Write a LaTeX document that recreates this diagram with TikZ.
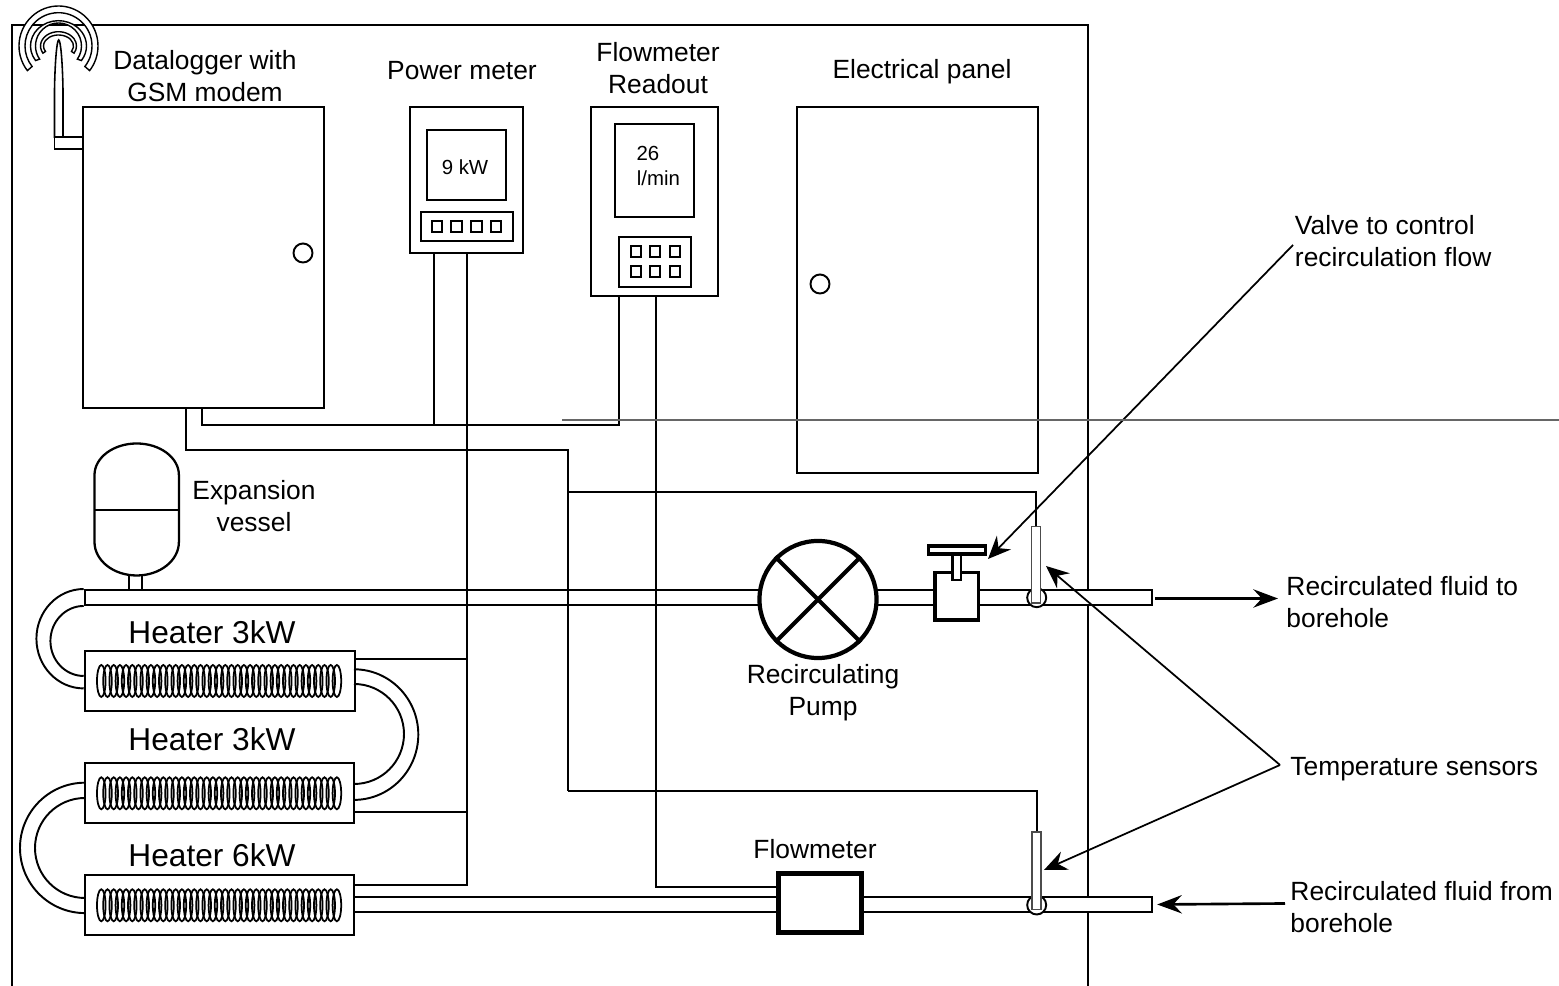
\documentclass[tikz,border=0pt]{standalone}
\usepackage{fontspec}
\setmainfont{Liberation Sans}
\usetikzlibrary{arrows.meta}

\begin{document}
\begin{tikzpicture}[x=0.01cm, y=-0.01cm, line width=0.55pt,
  box/.style={draw, rectangle, inner sep=0pt, fill=white},
  pipe/.style={draw, rectangle, inner sep=0pt, fill=white, minimum height=0.15cm},
  knob/.style={draw, circle, inner sep=0pt, minimum size=0.19cm},
  btn/.style={draw, rectangle, inner sep=0pt, minimum size=0.105cm},
  bulb/.style={draw, circle, inner sep=0pt, minimum size=0.19cm, fill=white},
  sensor/.style={draw=black!70, rectangle, inner sep=0pt, fill=white, minimum width=0.09cm, line width=0.45pt},
  heater/.style={draw, rectangle, inner sep=0pt, minimum width=2.69cm, minimum height=0.6cm},
  lbl/.style={font=\fontsize{7.5}{9.1}\selectfont, align=center, inner sep=0pt},
  lblbig/.style={font=\fontsize{9}{10}\selectfont, inner sep=0pt},
  lblsmall/.style={font=\fontsize{5.8}{7}\selectfont, inner sep=0pt},
  lead/.style={-{Stealth[length=6.5pt, width=5.6pt, inset=2.2pt]}, line width=0.5pt},
  flowarrow/.style={-{Stealth[length=7pt, width=5.2pt, inset=2.4pt]}, line width=0.75pt},
]
  \useasboundingbox (0,0) rectangle (1559,986);

  % Frame and pipes
  \draw (12,986) -- (12,25) -- (1088,25) -- (1088,986);
  \node[pipe, minimum width=10.67cm] (pipeTop) at (618.5,597.5) {};
  \node[pipe, minimum width=7.98cm] (pipeBot) at (753,904.5) {};

  % Antenna
  \begin{scope}[shift={(58.5,46)}]
    \foreach \ox/\oy/\ix/\iy/\a/\b in {39.5/40/33.5/33.3/142/398, 28/25.3/23/23/145/395, 18/14.3/15/11/150/390} {
      \draw[fill=white, line width=0.4pt] ({\ox*cos(\a)},{\oy*sin(\a)}) arc[start angle=\a, end angle=\b, x radius=\ox, y radius=\oy]
        -- ({\ix*cos(\b)},{\iy*sin(\b)}) arc[start angle=\b, end angle=\a, x radius=\ix, y radius=\iy] -- cycle;
    }
  \end{scope}
  \draw[fill=white, line width=0.45pt] (54.5,137) -- (54.5,90) .. controls (55,60) and (57,40) .. (58.7,40)
    .. controls (60.5,40) and (62.5,60) .. (63,90) -- (63,137) -- cycle;
  \node[box, minimum width=0.285cm, minimum height=0.12cm, line width=0.45pt] (antBase) at (68.7,143) {};

  % Cabinets
  \node[box, minimum width=2.405cm, minimum height=3.01cm] (logger) at (203.5,257.5) {};
  \node[knob] (loggerKnob) at (303,253) {};
  \node[box, minimum width=1.13cm, minimum height=1.46cm] (meter) at (466.5,180) {};
  \node[box, minimum width=0.785cm, minimum height=0.70cm] (meterScreen) at (466.5,165) {};
  \node[lblsmall] (meterVal) at (465,167) {9 kW};
  \node[box, minimum width=0.92cm, minimum height=0.295cm] (meterKeys) at (467,226.7) {};
  \foreach \bx [count=\bi] in {437,456.7,476.7,496}
    \node[btn] (meterBtn\bi) at (\bx,226.7) {};
  \node[box, minimum width=1.265cm, minimum height=1.89cm] (readout) at (654.75,201.5) {};
  \node[box, minimum width=0.79cm, minimum height=0.925cm] (readScreen) at (654.5,170.75) {};
  \node[lblsmall] (readVal) at (648,153) {26};
  \node[lblsmall] (readUnit) at (658.5,178) {l/min};
  \node[box, minimum width=0.72cm, minimum height=0.50cm] (readKeys) at (655,262) {};
  \foreach \bx [count=\bi] in {636,655,675} {
    \node[btn] (readBtnA\bi) at (\bx,251.7) {};
    \node[btn] (readBtnB\bi) at (\bx,271.7) {};
  }
  \node[box, minimum width=2.41cm, minimum height=3.66cm] (panel) at (917.5,290) {};
  \node[knob] (panelKnob) at (820,284) {};

  % Expansion vessel
  \draw[fill=white, line width=0.65pt] (129.3,590) rectangle (142,575);
  \draw[fill=white, line width=0.65pt] (94.5,475) arc[start angle=180, end angle=270, x radius=42.2, y radius=31.5]
    arc[start angle=270, end angle=360, x radius=42.2, y radius=31.5] -- (178.9,542)
    arc[start angle=0, end angle=90, x radius=42.2, y radius=33.5]
    arc[start angle=90, end angle=180, x radius=42.2, y radius=33.5] -- cycle;
  \draw[line width=0.75pt] (94.5,510) -- (178.9,510);

  % Heaters
  \node[heater] (heaterA) at (220,681) {};
  \node[heater] (heaterB) at (219.5,793) {};
  \node[heater] (heaterC) at (219.5,905) {};
  \foreach \cy in {681,793.3,905.3} {
    \foreach \n in {0,...,38}
      \draw[line width=0.5pt] (101.3+\n*6.2,\cy) ellipse[x radius=4.3, y radius=16];
  }

  % Bends
  \draw (pipeTop.north west) arc[start angle=270, end angle=90, x radius=47.3, y radius=49.7];
  \draw (pipeTop.south west) arc[start angle=270, end angle=90, x radius=33.3, y radius=35];
  \draw (354,669.3) arc[start angle=-90, end angle=90, x radius=64.3, y radius=65.3];
  \draw (354,684) arc[start angle=-90, end angle=90, x radius=50, y radius=50];
  \draw (85,782.7) arc[start angle=270, end angle=90, x radius=65, y radius=65.2];
  \draw (85,798) arc[start angle=270, end angle=90, x radius=50, y radius=50];

  % Wiring
  \coordinate (busA) at (202,425);
  \coordinate (busB) at (619,425);
  \coordinate (busC) at (434,425);
  \draw (logger.south -| busA) -- (busA) -- (busB) -- (readout.south -| busB);
  \draw (meter.south -| busC) -- (busC);
  \coordinate (sigA) at (186,450);
  \coordinate (sigB) at (568,450);
  \coordinate (sigC) at (568,791);
  \coordinate (sigD) at (568,492);
  \coordinate (pwrA) at (467,885);
  \coordinate (tapA) at (467,659);
  \coordinate (tapB) at (467,812);
  \coordinate (flowA) at (656,887);
  \node[box, line width=1.25pt, minimum width=0.83cm, minimum height=0.59cm] (flowmeter) at (820,903) {};
  \draw (logger.south -| sigA) -- (sigA) -- (sigB) -- (sigC);
  \draw (meter.south -| pwrA) -- (pwrA) -- (pwrA -| heaterC.east);
  \draw (tapA) -- (tapA -| heaterA.east);
  \draw (tapB) -- (tapB -| heaterB.east);
  \draw (readout.south -| flowA) -- (flowA) -- (flowA -| flowmeter.west);

  % Pump and valve
  \node[box, circle, line width=1.2pt, minimum size=1.17cm] (pump) at (818,599.5) {};
  \draw[line width=1.2pt] (pump.45) -- (pump.225);
  \draw[line width=1.2pt] (pump.135) -- (pump.-45);
  \node[box, line width=0.9pt, minimum width=0.435cm, minimum height=0.475cm] (valveBody) at (956.7,596.2) {};
  \node[box, line width=0.8pt, minimum width=0.085cm, minimum height=0.25cm] (valveStem) at (956.7,567.5) {};
  \node[box, line width=0.9pt, minimum width=0.57cm, minimum height=0.08cm] (valveHandle) at (956.7,550) {};

  % Temperature sensors
  \node[bulb] (bulbA) at (1036.7,597.7) {};
  \node[sensor, minimum height=0.76cm] (sensorA) at (1036,564.7) {};
  \node[bulb] (bulbB) at (1036.7,905) {};
  \node[sensor, minimum height=0.77cm] (sensorB) at (1036.7,870.8) {};
  \draw (sensorA.north) |- (sigD);
  \draw (sensorB.north) |- (sigC);

  % Labels
  \node[lbl] (loggerLbl) at (205,76.5) {Datalogger with\\GSM modem};
  \node[lbl] (meterLbl) at (462,71) {Power meter};
  \node[lbl] (readoutLbl) at (658,68) {Flowmeter\\Readout};
  \node[lbl] (panelLbl) at (922,72) {Electrical panel};
  \node[lbl] (vesselLbl) at (254,506) {Expansion\\vessel};
  \node[lblbig] (heaterLblA) at (212,632) {Heater 3kW};
  \node[lblbig] (heaterLblB) at (212,739) {Heater 3kW};
  \node[lblbig] (heaterLblC) at (212,855) {Heater 6kW};
  \node[lbl] (pumpLbl) at (823,693) {Recirculating\\Pump};
  \node[lbl] (flowLbl) at (815,849) {Flowmeter};
  \node[lbl, anchor=west, align=left] (valveLbl) at (1294,241) {Valve to control\\recirculation flow};
  \node[lbl, anchor=west, align=left] (outLbl) at (1285.5,602) {Recirculated fluid to\\borehole};
  \node[lbl, anchor=west, align=left] (sensLbl) at (1289.5,769) {Temperature sensors};
  \node[lbl, anchor=west, align=left] (inLbl) at (1289.5,907) {Recirculated fluid from\\borehole};

  % Leaders
  \coordinate (valveFrom) at (1293,245);
  \coordinate (valveTip) at (988,559);
  \coordinate (sensFrom) at (1280,765);
  \coordinate (sensTipA) at (1046,566);
  \coordinate (sensTipB) at (1044,870);
  \coordinate (outTip) at (1278,598.5);
  \coordinate (inFrom) at (1285,903.5);
  \draw[lead] (valveFrom) -- (valveTip);
  \draw[lead] (sensFrom) -- (sensTipA);
  \draw[lead] (sensFrom) -- (sensTipB);
  \draw[flowarrow] (pipeTop.east) ++(2,1) -- (outTip);
  \draw[flowarrow] (inFrom) -- ([xshift=0.04cm]pipeBot.east);

  \draw[black!60, line width=0.3pt] (562,420) -- (1559,420);
\end{tikzpicture}
\end{document}
